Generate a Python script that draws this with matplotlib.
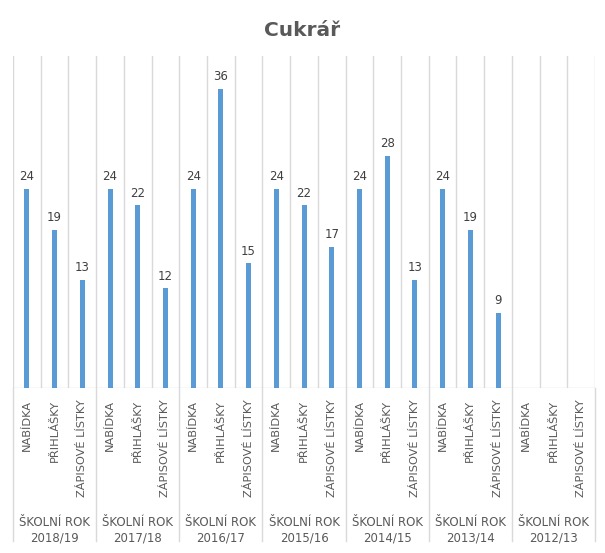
import matplotlib.pyplot as plt
import matplotlib.transforms as mtransforms
import numpy as np

plt.rcParams['font.family'] = ['DejaVu Sans']

groups = ["ŠKOLNÍ ROK\n2018/19", "ŠKOLNÍ ROK\n2017/18", "ŠKOLNÍ ROK\n2016/17",
          "ŠKOLNÍ ROK\n2015/16", "ŠKOLNÍ ROK\n2014/15", "ŠKOLNÍ ROK\n2013/14",
          "ŠKOLNÍ ROK\n2012/13"]
cats = ["NABÍDKA", "PŘIHLÁŠKY", "ZÁPISOVÉ LÍSTKY"]
values = [
    [24, 19, 13],
    [24, 22, 12],
    [24, 36, 15],
    [24, 22, 17],
    [24, 28, 13],
    [24, 19, 9],
    [None, None, None],
]

bar_col = "#5B9BD5"
grid_col = "#D9D9D9"
txt_col = "#595959"

fig = plt.figure(figsize=(6.05, 5.53), dpi=100)
ax = fig.add_axes([0.0215, 0.2984, 0.962, 0.6003])

n = len(groups) * len(cats)
x = np.arange(n)
flat = [v for g in values for v in g]
for xi, v in zip(x, flat):
    if v is None:
        continue
    ax.bar(xi, v, width=0.18, color=bar_col, zorder=3)
    ax.text(xi, v + 0.7, str(v), ha="center", va="bottom", fontsize=8.5,
            color="#404040")

ax.set_xlim(-0.5, n - 0.5)
ax.set_ylim(0, 40)
ax.set_xticks([])
ax.set_yticks([])
for s in ax.spines.values():
    s.set_visible(False)

# category gridlines
for b in np.arange(-0.5, n, 1.0):
    ax.axvline(b, color=grid_col, lw=1, zorder=1)
ax.axhline(0, color=grid_col, lw=1, zorder=2)

trans = mtransforms.blended_transform_factory(ax.transData, ax.transAxes)
# category labels
for xi in x:
    ax.text(xi, -0.035, cats[xi % 3], rotation=90, ha="center", va="top",
            fontsize=8.2, color=txt_col, transform=trans)
# group labels and separators
for gi, g in enumerate(groups):
    ax.text(gi * 3 + 1, -0.385, g, ha="center", va="top", fontsize=8.5,
            color=txt_col, transform=trans, linespacing=1.3)
for gi in range(len(groups) + 1):
    ax.plot([gi * 3 - 0.5, gi * 3 - 0.5], [0, -0.46], color=grid_col, lw=1,
            transform=trans, clip_on=False)

fig.text(0.5, 1 - 31 / 553, "Cukrář", ha="center", va="center", fontsize=14.5,
         fontweight="bold", color=txt_col)

fig.savefig("out.png", dpi=100)
